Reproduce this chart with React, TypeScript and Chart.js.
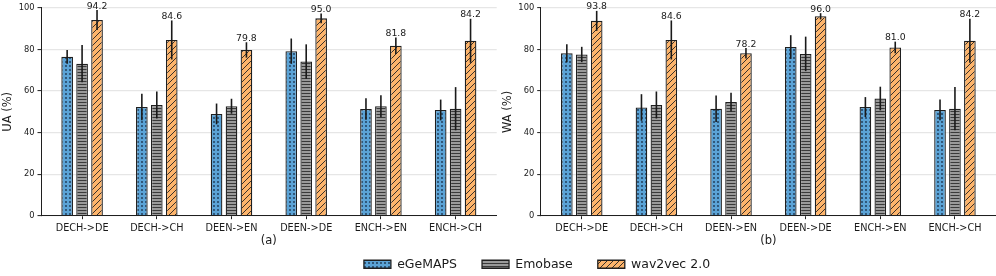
import React, { useEffect, useRef } from 'react';
import { Chart, registerables } from 'chart.js';

Chart.register(...registerables);

const FONT = "'DejaVu Sans', 'Liberation Sans', sans-serif";
Chart.defaults.font.family = FONT;

// ---------------- data ----------------
const categories = ['DECH->DE', 'DECH->CH', 'DEEN->EN', 'DEEN->DE', 'ENCH->EN', 'ENCH->CH'];
const seriesNames = ['eGeMAPS', 'Emobase', 'wav2vec 2.0'];
const yTickValues = [0, 20, 40, 60, 80, 100];

// (a) UA
const uaEgemaps = [76.5, 52.3, 49.0, 79.2, 51.4, 50.9];
const uaEgemapsErr = [3.3, 6.4, 5.0, 6.1, 5.2, 5.0];
const uaEmobase = [73.2, 53.3, 52.7, 74.2, 52.7, 51.5];
const uaEmobaseErr = [9.0, 6.5, 3.6, 8.3, 5.3, 10.4];
const uaWav2vec = [94.2, 84.6, 79.8, 95.0, 81.8, 84.2];
const uaWav2vecErr = [4.8, 9.4, 3.7, 2.3, 4.0, 10.6];

// (b) WA
const waEgemaps = [78.2, 52.1, 51.5, 81.2, 52.3, 50.9];
const waEgemapsErr = [4.3, 6.4, 6.4, 5.7, 4.8, 5.0];
const waEmobase = [77.6, 53.3, 54.7, 77.9, 56.4, 51.5];
const waEmobaseErr = [3.7, 6.5, 4.5, 8.3, 5.7, 10.4];
const waWav2vec = [93.8, 84.6, 78.2, 96.0, 81.0, 84.2];
const waWav2vecErr = [4.8, 9.4, 2.5, 1.5, 2.8, 10.6];

// ---------------- styles ----------------
const TEXT = '#1a1a1a';
const EDGE = '#1f1f1f';

function makePattern(kind: 'dots' | 'lines' | 'diag'): CanvasPattern | string {
  const tile = document.createElement('canvas');
  const size = kind === 'diag' ? 6 : kind === 'lines' ? 3 : 4;
  tile.width = kind === 'lines' ? 4 : size;
  tile.height = size;
  const c = tile.getContext('2d')!;
  if (kind === 'dots') {
    c.fillStyle = '#5ba3d6';
    c.fillRect(0, 0, 4, 4);
    c.fillStyle = '#1c3550';
    c.beginPath();
    c.arc(2, 2, 0.9, 0, Math.PI * 2);
    c.fill();
  } else if (kind === 'lines') {
    c.fillStyle = '#9a9a9a';
    c.fillRect(0, 0, 4, 3);
    c.fillStyle = '#3a3a3a';
    c.fillRect(0, 0, 4, 1);
  } else {
    c.fillStyle = '#fdb46b';
    c.fillRect(0, 0, 6, 6);
    c.strokeStyle = '#222';
    c.lineWidth = 0.9;
    c.beginPath();
    c.moveTo(0, 6); c.lineTo(6, 0);
    c.moveTo(-1, 1); c.lineTo(1, -1);
    c.moveTo(5, 7); c.lineTo(7, 5);
    c.stroke();
  }
  const p = c.createPattern(tile, 'repeat');
  return p || '#888';
}

const errorBarPlugin = {
  id: 'errorBarsAndLabels',
  afterDatasetsDraw(chart: any) {
    const ctx = chart.ctx as CanvasRenderingContext2D;
    const yScale = chart.scales.y;
    chart.data.datasets.forEach((ds: any, di: number) => {
      if (!ds.errors) return;
      const meta = chart.getDatasetMeta(di);
      meta.data.forEach((bar: any, i: number) => {
        const v = ds.data[i].y as number;
        const e = ds.errors[i] as number;
        const top = yScale.getPixelForValue(v + e);
        const bot = yScale.getPixelForValue(v - e);
        ctx.save();
        ctx.strokeStyle = '#1a1a1a';
        ctx.lineWidth = 1.6;
        ctx.beginPath();
        ctx.moveTo(bar.x, top);
        ctx.lineTo(bar.x, bot);
        ctx.stroke();
        if (ds.valueLabels) {
          ctx.fillStyle = TEXT;
          ctx.font = `9.3px ${FONT}`;
          ctx.textAlign = 'center';
          ctx.textBaseline = 'alphabetic';
          ctx.fillText(v.toFixed(1), bar.x, top - 1.5);
        }
        ctx.restore();
      });
    });
  },
};

function buildDatasets(values: number[][], errors: number[][]) {
  const patterns = [makePattern('dots'), makePattern('lines'), makePattern('diag')];
  return values.map((vals, k) => ({
    label: seriesNames[k],
    data: vals.map((v, i) => ({ x: i + (k - 1) * 0.2, y: v })),
    errors: errors[k],
    valueLabels: k === 2,
    backgroundColor: patterns[k],
    borderColor: EDGE,
    borderWidth: 1.3,
    grouped: false,
    barPercentage: 0.78,
    categoryPercentage: 1,
  }));
}

function makeConfig(values: number[][], errors: number[][], yTitle: string, xTitle: string, axisWidth: number, padRight: number): any {
  return {
    type: 'bar',
    data: { datasets: buildDatasets(values, errors) },
    plugins: [errorBarPlugin],
    options: {
      responsive: false,
      animation: false,
      layout: { padding: { left: 0, right: padRight, top: 7.2, bottom: 0 } },
      plugins: { legend: { display: false }, tooltip: { enabled: false } },
      scales: {
        x: {
          type: 'linear',
          offset: false,
          min: -0.55,
          max: 5.55,
          afterBuildTicks: (s: any) => {
            s.ticks = categories.map((_, i) => ({ value: i }));
          },
          afterFit: (s: any) => {
            s.height = 34.3;
          },
          ticks: {
            callback: (v: any) => categories[v] ?? '',
            autoSkip: false,
            maxRotation: 0,
            color: TEXT,
            padding: 3,
            font: { size: 9.7 },
          },
          grid: {
            offset: false,
            drawOnChartArea: false,
            drawTicks: true,
            tickLength: 3.5,
            tickColor: EDGE,
            tickWidth: 1,
          },
          border: { display: true, color: EDGE, width: 1 },
          title: {
            display: true,
            text: xTitle,
            color: TEXT,
            font: { size: 11.5 },
            padding: { top: 0, bottom: 1.6 },
          },
        },
        y: {
          min: 0,
          max: 100,
          afterBuildTicks: (s: any) => {
            s.ticks = yTickValues.map((v) => ({ value: v }));
          },
          afterFit: (s: any) => {
            s.width = axisWidth;
          },
          ticks: { color: TEXT, padding: 3, font: { size: 8.3 } },
          grid: {
            color: '#e6e6e6',
            lineWidth: 1.2,
            drawTicks: true,
            tickLength: 3.5,
            tickColor: EDGE,
            tickWidth: 1,
          },
          border: { display: true, color: EDGE, width: 1 },
          title: {
            display: true,
            text: yTitle,
            color: TEXT,
            font: { size: 11.5 },
            padding: { top: 1, bottom: 0 },
          },
        },
      },
    },
  };
}

function legendConfig(): any {
  const patterns = [makePattern('dots'), makePattern('lines'), makePattern('diag')];
  return {
    type: 'bar',
    data: {
      labels: [],
      datasets: seriesNames.map((n, k) => ({
        label: n,
        data: [],
        backgroundColor: patterns[k],
        borderColor: EDGE,
        borderWidth: 1.3,
      })),
    },
    options: {
      responsive: false,
      animation: false,
      layout: { padding: 0 },
      scales: { x: { display: false }, y: { display: false } },
      plugins: {
        tooltip: { enabled: false },
        legend: {
          display: true,
          position: 'top',
          labels: {
            boxWidth: 27,
            boxHeight: 8,
            padding: 25,
            color: TEXT,
            font: { size: 12.5 },
          },
        },
      },
    },
  };
}

function ChartCanvas(props: { config: () => any; left: number; top: number; width: number; height: number }) {
  const ref = useRef<HTMLCanvasElement | null>(null);
  useEffect(() => {
    if (!ref.current) return;
    const chart = new Chart(ref.current, props.config());
    return () => chart.destroy();
  }, []);
  return (
    <canvas
      ref={ref}
      width={props.width}
      height={props.height}
      style={{ position: 'absolute', left: props.left, top: props.top, width: props.width, height: props.height, display: 'block' }}
    />
  );
}

export default function App() {
  return (
    <div style={{ position: 'absolute', left: 0, top: 0, width: 996, height: 276, background: '#fff', overflow: 'hidden' }}>
      <ChartCanvas
        left={0}
        top={0}
        width={500}
        height={250}
        config={() =>
          makeConfig([uaEgemaps, uaEmobase, uaWav2vec], [uaEgemapsErr, uaEmobaseErr, uaWav2vecErr], 'UA (%)', '(a)', 41, 3.3)
        }
      />
      <ChartCanvas
        left={500}
        top={0}
        width={496}
        height={250}
        config={() =>
          makeConfig([waEgemaps, waEmobase, waWav2vec], [waEgemapsErr, waEmobaseErr, waWav2vecErr], 'WA (%)', '(b)', 40.7, 0)
        }
      />
      <ChartCanvas left={287} top={233} width={500} height={140} config={legendConfig} />
    </div>
  );
}
